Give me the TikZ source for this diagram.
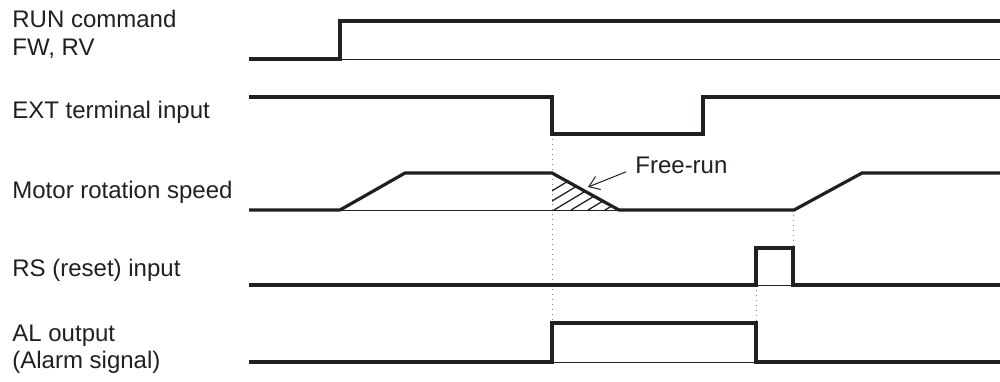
\documentclass[tikz,border=0pt]{standalone}
\usepackage{fontspec}
\setmainfont{Liberation Sans}
\usetikzlibrary{arrows.meta}

\definecolor{ink}{RGB}{35,31,32}
\tikzset{
  signal/.style={ink, line width=1.6pt, line join=miter},
  baseln/.style={ink, line width=0.5pt},
  guide/.style={gray, dotted, line width=0.5pt},
  sigl/.style={ink, anchor=base west, inner sep=0pt, font=\fontsize{12}{14}\selectfont}
}

\begin{document}
\begin{tikzpicture}[x=0.5pt,y=-0.5pt]
  \useasboundingbox (0,0) rectangle (1000,381);

  % Draw signal names
  \node[sigl] (run)   at (12,27)  {RUN command};
  \node[sigl] (fwrv)  at (12,55)  {FW, RV};
  \node[sigl] (ext)   at (12,118) {EXT terminal input};
  \node[sigl] (motor) at (12,198) {Motor rotation speed};
  \node[sigl] (rs)    at (12,276) {RS (reset) input};
  \node[sigl] (al)    at (12,341) {AL output};
  \node[sigl] (alarm) at (12,368) {(Alarm signal)};

  % Draw hatched free-run area
  \begin{scope}
    \clip (552,173) -- (552,210) -- (619,210) -- cycle;
    \foreach \x in {520,537,...,620}
      \draw[baseln, line width=0.65pt] (\x,210) -- ++(55,-33);
  \end{scope}

  % Draw thin base lines
  \draw[baseln] (340,59) -- (1000,59);
  \draw[baseln] (340,210) -- (619,210);
  \draw[baseln] (756,285) -- (793,285);
  \draw[baseln] (552,362) -- (756,362);

  % Draw dotted guide lines
  \draw[guide] (552,134) -- (552,323);
  \draw[guide] (793,210) -- (793,248);
  \draw[guide] (756,285) -- (756,323);

  % Draw the signals
  \draw[signal] (249,59) -- (340,59) -- (340,21) -- (1000,21);
  \draw[signal] (249,97) -- (552,97) -- (552,134) -- (703,134) -- (703,97) -- (1000,97);
  \draw[signal] (249,210) -- (340,210) -- (405,173) -- (552,173) -- (619,210)
    -- (794,210) -- (862,173) -- (1000,173);
  \draw[signal] (249,285) -- (756,285) -- (756,248) -- (793,248) -- (793,285) -- (1000,285);
  \draw[signal] (249,362) -- (552,362) -- (552,323) -- (756,323) -- (756,362) -- (1000,362);

  % Draw free-run label
  \node[sigl] (freerun) at (635,173) {Free-run};
  \coordinate (freetip) at (588,187);
  \draw[baseln,-{Straight Barb[length=5pt,width=7pt]}] ([xshift=-4.5pt,yshift=-3.5pt]freerun.west) -- (freetip);
\end{tikzpicture}
\end{document}
